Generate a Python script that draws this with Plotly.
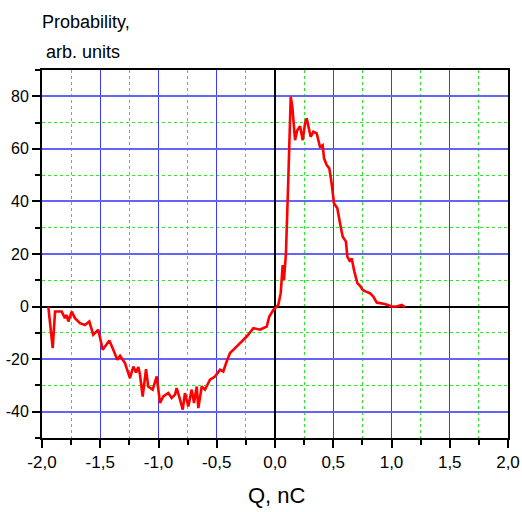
import plotly.graph_objects as go

# Charge Q (nC) and probability (arb. units)
q_values = [-1.946, -1.908, -1.888, -1.831, -1.803, -1.788, -1.774, -1.745, -1.717, -1.674,
            -1.631, -1.594, -1.560, -1.517, -1.479, -1.459, -1.422, -1.388, -1.354, -1.330,
            -1.288, -1.245, -1.216, -1.193, -1.173, -1.159, -1.136, -1.107, -1.088, -1.050,
            -1.015, -0.987, -0.959, -0.916, -0.887, -0.858, -0.844, -0.815, -0.792, -0.773,
            -0.744, -0.715, -0.695, -0.672, -0.658, -0.629, -0.601, -0.558, -0.515, -0.472,
            -0.444, -0.415, -0.386, -0.343, -0.300, -0.243, -0.186, -0.129, -0.071, -0.049,
            -0.015, 0.005, 0.028, 0.049, 0.066, 0.077, 0.094, 0.114, 0.135, 0.149,
            0.172, 0.191, 0.215, 0.238, 0.258, 0.272, 0.286, 0.306, 0.329, 0.358,
            0.386, 0.409, 0.421, 0.444, 0.466, 0.486, 0.506, 0.535, 0.558, 0.581,
            0.609, 0.621, 0.644, 0.658, 0.681, 0.707, 0.730, 0.753, 0.781, 0.815,
            0.844, 0.873, 0.901, 0.944, 1.002, 1.045, 1.088, 1.116]
prob_values = [0.0, -15.8, -1.9, -1.9, -4.4, -3.2, -5.7, -1.9, -4.4, -6.3,
               -7.0, -5.7, -10.7, -8.8, -16.4, -15.2, -12.9, -16.4, -20.2, -18.7,
               -21.5, -27.2, -22.8, -25.1, -23.0, -25.9, -34.2, -23.8, -30.4, -31.6,
               -26.6, -36.7, -34.2, -32.9, -34.8, -33.5, -31.0, -35.4, -39.2, -32.9,
               -38.0, -31.6, -36.7, -30.4, -38.6, -30.4, -31.6, -27.8, -26.6, -24.0,
               -24.7, -20.9, -17.7, -15.8, -13.9, -11.4, -8.2, -8.8, -7.6, -3.8,
               -1.3, -0.3, 0.6, 5.1, 15.8, 10.1, 20.3, 48.1, 79.8, 76.0,
               63.3, 67.1, 68.6, 63.3, 69.7, 71.6, 68.4, 64.6, 66.5, 65.9,
               60.8, 61.4, 56.4, 53.8, 52.6, 46.9, 39.3, 37.4, 31.7, 26.6,
               24.7, 19.0, 17.1, 18.4, 13.3, 8.9, 7.9, 6.3, 5.7, 5.1,
               3.8, 1.5, 1.3, 1.0, 0.0, 0.0, 0.6, -0.2]

x_tick_vals = [-2.0, -1.5, -1.0, -0.5, 0.0, 0.5, 1.0, 1.5, 2.0]
x_tick_text = ["-2,0", "-1,5", "-1,0", "-0,5", "0,0", "0,5", "1,0", "1,5", "2,0"]
y_tick_vals = [-40, -20, 0, 20, 40, 60, 80]
y_tick_text = ["-40", "-20", "0", "20", "40", "60", "80"]

FONT = "Liberation Sans, Arial, sans-serif"

fig = go.Figure()
fig.add_trace(go.Scatter(x=q_values, y=prob_values, mode="lines",
                         line=dict(color="#ff0000", width=2.6), showlegend=False))

W, H = 522, 512
L, R, T, B = 42, 14, 70, 74
ph = H - T - B

fig.update_layout(
    width=W, height=H,
    margin=dict(l=L, r=R, t=T, b=B, pad=0, autoexpand=False),
    paper_bgcolor="white", plot_bgcolor="white",
    font=dict(family=FONT, color="black", size=17),
    xaxis=dict(range=[-2, 2], tickmode="array", tickvals=x_tick_vals, ticktext=x_tick_text,
               automargin=False,
               ticks="outside", ticklen=8, tickwidth=2, tickcolor="black",
               showline=True, linecolor="black", linewidth=2, mirror=True,
               showgrid=True, gridcolor="#3a3aff", gridwidth=1,
               zeroline=True, zerolinecolor="black", zerolinewidth=2,
               tickfont=dict(size=17, family=FONT),
               minor=dict(tickmode="linear", tick0=0, dtick=0.25, ticks="outside", ticklen=5,
                          tickwidth=2, tickcolor="black", showgrid=True,
                          gridcolor="#22ee22", griddash="dot", gridwidth=1)),
    yaxis=dict(range=[-50, 90], tickmode="array", tickvals=y_tick_vals, ticktext=y_tick_text,
               automargin=False,
               ticks="outside", ticklen=8, tickwidth=2, tickcolor="black",
               showline=True, linecolor="black", linewidth=2, mirror=True,
               showgrid=True, gridcolor="#6464f4", gridwidth=2,
               zeroline=True, zerolinecolor="black", zerolinewidth=2,
               tickfont=dict(size=16, family=FONT),
               minor=dict(tickmode="linear", tick0=0, dtick=10, ticks="outside", ticklen=5,
                          tickwidth=2, tickcolor="black", showgrid=True,
                          gridcolor="#22ee22", griddash="dot", gridwidth=1)),
)

def py_to_paper(py):
    return (H - B - py) / ph

fig.add_annotation(text="Probability,", xref="paper", yref="paper", x=(40 - L) / (W - L - R),
                   y=py_to_paper(34), xanchor="left", yanchor="bottom", showarrow=False,
                   font=dict(size=18, family=FONT))
fig.add_annotation(text="arb. units", xref="paper", yref="paper", x=(44 - L) / (W - L - R),
                   y=py_to_paper(64), xanchor="left", yanchor="bottom", showarrow=False,
                   font=dict(size=18, family=FONT))
fig.add_annotation(text="Q, nC", xref="x", yref="paper", x=0.02, y=py_to_paper(510),
                   xanchor="center", yanchor="bottom", showarrow=False,
                   font=dict(size=22, family=FONT))

fig.write_html("out.html")
